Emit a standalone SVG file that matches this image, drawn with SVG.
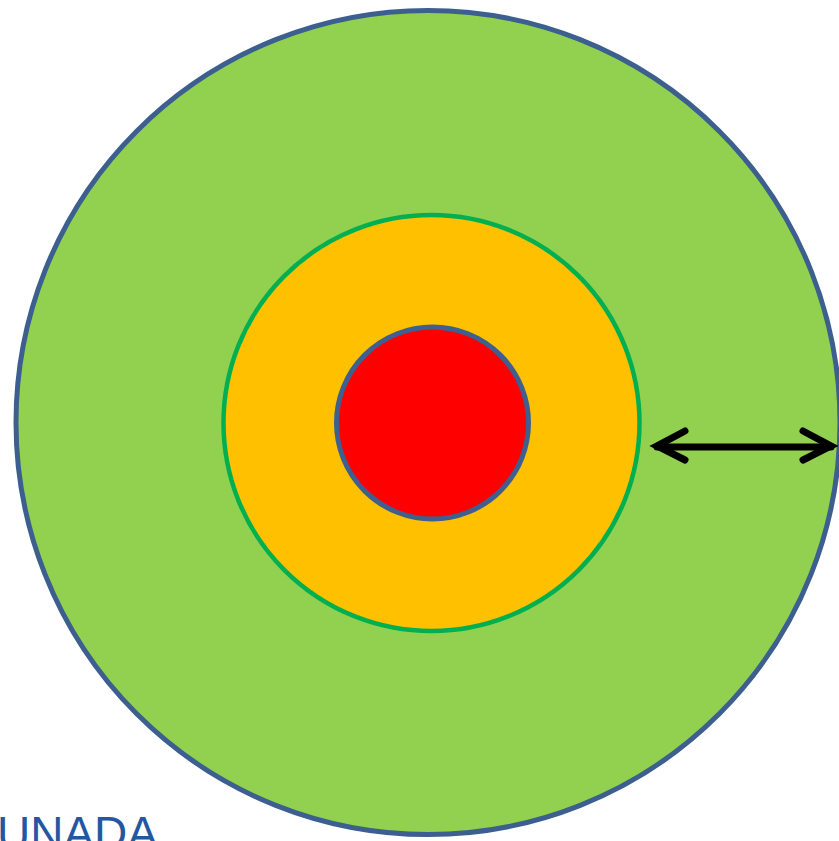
<svg xmlns="http://www.w3.org/2000/svg" width="839" height="841" viewBox="0 0 839 841">
<style>
.lbl{font-family:"Liberation Sans",Arial,sans-serif;font-size:46px;fill:#2457A0}
.arr{fill:none;stroke:#000;stroke-width:7;stroke-linecap:round;stroke-linejoin:miter}
</style>
<rect width="839" height="841" fill="#fff"/>
<g id="outer">
<circle cx="428" cy="422.5" r="412" fill="#92D050" stroke="#3C5F90" stroke-width="5"/>
</g>
<g id="middle">
<circle cx="431.5" cy="423" r="208" fill="#FFC000" stroke="#00B050" stroke-width="4.5"/>
</g>
<g id="inner">
<circle cx="432.5" cy="423" r="96" fill="#FF0000" stroke="#3F5F8F" stroke-width="5"/>
</g>
<g id="connectors">
<path class="arr" d="M657 447 H831"/>
<path class="arr" d="M685 431 L657 446 L685 460"/>
<path class="arr" d="M803 431 L831 446 L803 460"/>
</g>
<g id="label">
<text class="lbl" x="-3" y="849">UNADA</text>
</g>
</svg>
